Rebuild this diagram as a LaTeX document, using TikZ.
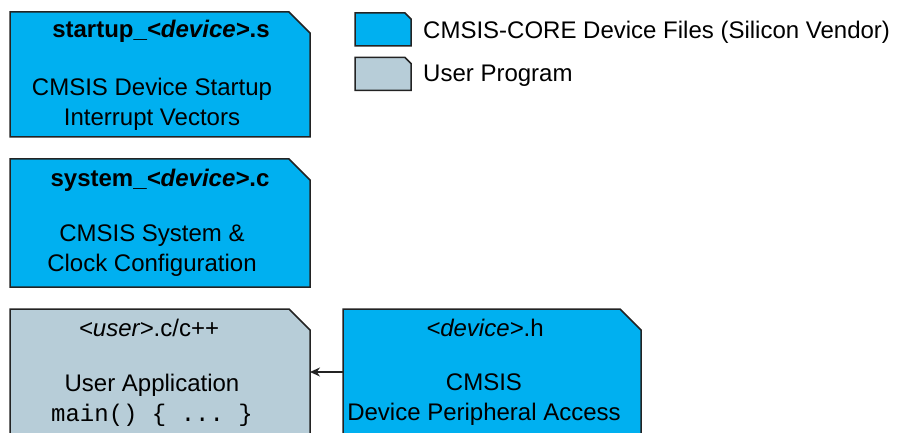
\documentclass[tikz,border=0pt]{standalone}
\usepackage{fontspec}
\setmainfont{Liberation Sans}
\setmonofont{Liberation Mono}
\usetikzlibrary{arrows.meta,positioning}
\definecolor{vendorblue}{RGB}{0,176,240}
\definecolor{usergray}{RGB}{183,205,216}
\definecolor{edgegray}{RGB}{35,35,35}
\newcommand\foldbox[3]{\filldraw[fold,fill=#3] (#1.south west) -- (#1.north west)
  -- ([xshift=-#2]#1.north east) -- ([yshift=-#2]#1.north east) -- (#1.south east) -- cycle;}

\begin{document}
\begin{tikzpicture}[x=1pt,y=-1pt,>={Stealth[length=10pt,width=9pt]},
fold/.style={draw=edgegray,line width=1.5pt,line join=miter},
file/.style={rectangle,inner sep=0pt,outer sep=0pt,minimum width=300pt},
key/.style={rectangle,inner sep=0pt,outer sep=0pt,minimum width=56pt,minimum height=33pt},
ftitle/.style={font=\fontsize{24}{29}\selectfont,inner sep=0pt},
fbody/.style={font=\fontsize{24}{30}\selectfont,align=center,inner sep=0pt}]
\useasboundingbox (0,0) rectangle (897,433);
\node[file,minimum height=125pt] (start) at (160,74.5) {};
\node[file,minimum height=128pt] (sys) at (160,223) {};
\node[file,minimum height=126pt] (usr) at (160,372) {};
\node[file,minimum height=126pt,minimum width=298pt] (dev) at (492,372) {};
\foldbox{start}{21pt}{vendorblue}
\foldbox{sys}{21pt}{vendorblue}
\foldbox{usr}{21pt}{usergray}
\foldbox{dev}{21pt}{vendorblue}
\node[ftitle] (startt) at ([xshift=1pt,yshift=-19pt]start.north) {\textbf{startup\_\textit{<device>}.s}};
\node[fbody] (startb) at ([xshift=-8pt,yshift=-92pt]start.north) {CMSIS Device Startup\\Interrupt Vectors};
\node[ftitle] (syst) at ([xshift=0pt,yshift=-21pt]sys.north) {\textbf{system\_\textit{<device>}.c}};
\node[fbody] (sysb) at ([xshift=-8pt,yshift=-92pt]sys.north) {CMSIS System \&\\Clock Configuration};
\node[ftitle] (usrt) at ([xshift=-11pt,yshift=-19pt]usr.north) {\textit{<user>}.c/c++};
\node[fbody] (usrb) at ([xshift=-8pt,yshift=-91pt]usr.north) {User Application\\\texttt{main() \{ ... \}}};
\node[ftitle] (devt) at ([xshift=-7pt,yshift=-19pt]dev.north) {\textit{<device>}.h};
\node[fbody] (devb) at ([xshift=-8pt,yshift=-91pt]dev.north) {CMSIS\\Device Peripheral Access};
\node[key] (kv) at (383,29.5) {};
\node[key] (ku) at (383,74) {};
\foldbox{kv}{6pt}{vendorblue}
\foldbox{ku}{6pt}{usergray}
\node[ftitle,right=12pt of kv,yshift=-3pt] (kvt) {CMSIS-CORE Device Files (Silicon Vendor)};
\node[ftitle,right=12pt of ku,yshift=-2pt] (kut) {User Program};
\draw[->,line width=1.3pt,edgegray] (dev) -- (usr);
\end{tikzpicture}
\end{document}
